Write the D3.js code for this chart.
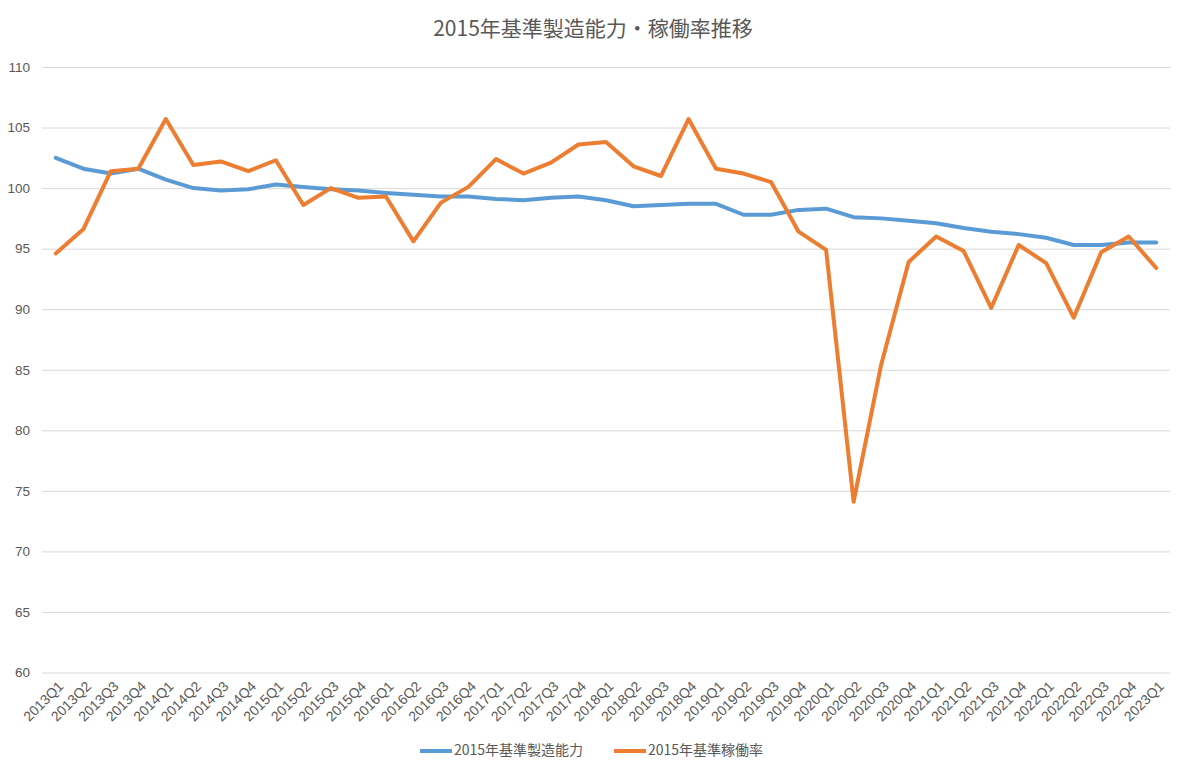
<!DOCTYPE html>
<html><head><meta charset="utf-8">
<script src="https://cdn.jsdelivr.net/npm/d3@7"></script>
<style>body{margin:0;background:#fff;} svg{display:block;font-family:"Noto Sans CJK JP","Noto Sans",sans-serif;}</style>
</head><body>
<svg id="c" width="1186" height="776"></svg>
<script>
const categories = [];
const years = [2013,2014,2015,2016,2017,2018,2019,2020,2021,2022,2023];
years.forEach(y => [1,2,3,4].forEach(q => { if (!(y===2023 && q>1)) categories.push(y+"Q"+q); }));

const capacity = [102.5,101.6,101.2,101.6,100.7,100.0,99.8,99.9,100.3,100.1,99.9,99.8,99.6,99.45,99.3,99.3,99.1,99.0,99.2,99.3,99.0,98.5,98.6,98.7,98.7,97.8,97.8,98.2,98.3,97.6,97.5,97.3,97.1,96.7,96.4,96.2,95.9,95.3,95.3,95.5,95.5];
const utilization = [94.6,96.6,101.4,101.6,105.7,101.9,102.2,101.4,102.3,98.6,100.0,99.2,99.3,95.6,98.8,100.1,102.4,101.2,102.1,103.6,103.8,101.8,101.0,105.7,101.6,101.2,100.5,96.4,94.9,74.1,85.4,93.9,96.0,94.8,90.1,95.3,93.8,89.3,94.7,96.0,93.4];
const yTicks = [60,65,70,75,80,85,90,95,100,105,110];
const seriesNames = ["2015年基準製造能力","2015年基準稼働率"];
const colors = ["#5B9BD5","#ED7D31"];
const title = "2015年基準製造能力・稼働率推移";

const svg = d3.select("#c");
const L = 42, R = 1170, T = 67, B = 672.5;
const x = d3.scaleBand().domain(categories).range([L, R]);
const y = d3.scaleLinear().domain([60,110]).range([B, T]);
const cx = c => x(c) + x.bandwidth()/2;
const txt = "#595959";

svg.append("text").attr("x", 593).attr("y", 36).attr("text-anchor","middle")
  .attr("font-size", 21).attr("fill", txt).text(title);

// grid + y labels
const ya = svg.append("g").attr("transform", `translate(${L},0)`)
  .call(d3.axisLeft(y).tickValues(yTicks).tickSize(-(R-L)).tickPadding(12));
ya.select(".domain").remove();
ya.selectAll(".tick line").attr("stroke","#D9D9D9").attr("stroke-width",1);
ya.selectAll(".tick text").attr("fill",txt).attr("font-size",13.5).attr("font-family","inherit");

// x labels
const xa = svg.append("g").attr("transform", `translate(0,${B})`)
  .call(d3.axisBottom(x).tickSize(0));
xa.select(".domain").remove();
xa.selectAll(".tick text").attr("fill",txt).attr("font-size",14).attr("font-family","inherit")
  .attr("text-anchor","end").attr("dy",null).attr("y",0)
  .attr("transform","translate(6,12) rotate(-45)").attr("dominant-baseline","middle");

const line = d3.line().x((d,i) => cx(categories[i])).y(d => y(d));
[capacity, utilization].forEach((s, k) => {
  svg.append("path").datum(s).attr("d", line).attr("fill","none")
    .attr("stroke", colors[k]).attr("stroke-width", 4).attr("stroke-linejoin","round").attr("stroke-linecap","round");
});

// legend
const lg = svg.append("g");
const lx = [420, 614];
seriesNames.forEach((n,k) => {
  lg.append("line").attr("x1",lx[k]).attr("x2",lx[k]+32).attr("y1",751).attr("y2",751)
    .attr("stroke",colors[k]).attr("stroke-width",4);
  lg.append("text").attr("x",lx[k]+34).attr("y",751).attr("dominant-baseline","middle")
    .attr("font-size",14).attr("fill",txt).text(n);
});
</script>
</body></html>
